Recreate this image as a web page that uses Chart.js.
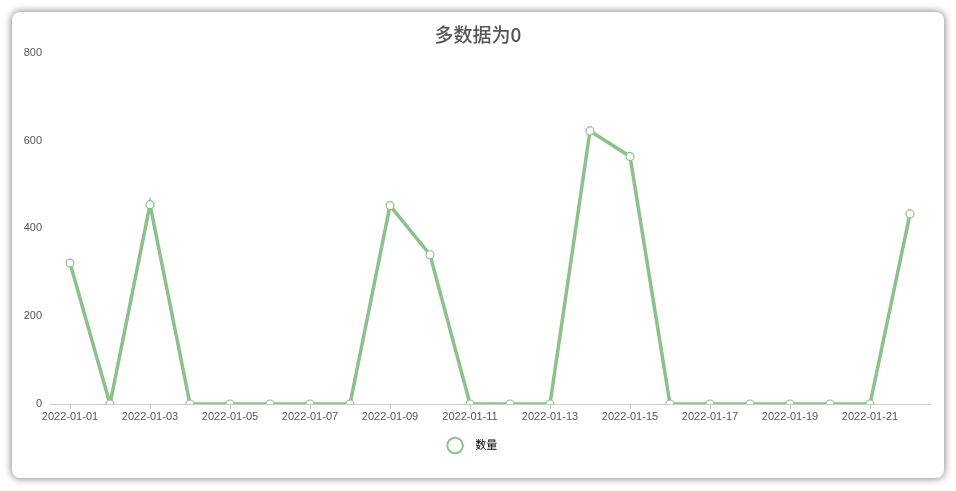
<!DOCTYPE html>
<html>
<head>
<meta charset="utf-8">
<title>多数据为0</title>
<script src="https://cdn.jsdelivr.net/npm/chart.js@4.4.0/dist/chart.umd.min.js"></script>
<style>
    html, body { margin: 0; padding: 0; background: #fff; }
    .card {
        position: absolute; left: 12px; top: 12px; width: 932px; height: 466px;
        background: #fff; border-radius: 8px;
        box-shadow: 0 0 7px 1px rgba(0, 0, 0, 0.45);
    }
    .wrap { position: absolute; left: 0; top: 0; width: 956px; height: 491px; }
</style>
</head>
<body>

<script>
    const days = ['2022-01-01', '2022-01-02', '2022-01-03', '2022-01-04', '2022-01-05', '2022-01-06',
        '2022-01-07', '2022-01-08', '2022-01-09', '2022-01-10', '2022-01-11', '2022-01-12',
        '2022-01-13', '2022-01-14', '2022-01-15', '2022-01-16', '2022-01-17', '2022-01-18',
        '2022-01-19', '2022-01-20', '2022-01-21', '2022-01-22']
    const counts = [321, 0, 454, 0, 0, 0, 0, 0, 452, 340, 0, 0, 0, 622, 564, 0, 0, 0, 0, 0, 0, 433]
    const yTicks = [0, 200, 400, 600, 800]
</script>

<div class="card"></div>
<div class="wrap"><canvas id="chart" width="956" height="491"></canvas></div>

<script>
    const green = '#8cc08c'
    const font = '"Liberation Sans", Arial, "Noto Sans CJK SC", sans-serif'

    new Chart(document.getElementById('chart'), {
        type: 'line',
        data: {
            labels: days,
            datasets: [{
                label: '数量',
                data: counts,
                borderColor: green,
                backgroundColor: '#fff',
                borderWidth: 3.5,
                pointRadius: 4,
                pointBorderWidth: 1.2,
                pointBackgroundColor: '#fff',
                pointBorderColor: green,
                tension: 0,
            }]
        },
        options: {
            responsive: false,
            animation: false,
            layout: { padding: { left: 0, right: 0, top: 0, bottom: 30 } },
            plugins: {
                title: {
                    display: true,
                    text: '多数据为0',
                    color: '#555',
                    font: { family: '"Noto Sans CJK SC", sans-serif', size: 19, weight: 500 },
                    padding: { top: 23, bottom: 7 },
                },
                legend: {
                    position: 'bottom',
                    labels: {
                        usePointStyle: true,
                        pointStyle: 'circle',
                        boxHeight: 11,
                        color: '#444',
                        font: { family: font, size: 11 },
                        padding: 10,
                        generateLabels: chart => [{
                            text: '   数量   ',
                            fillStyle: '#fff',
                            strokeStyle: green,
                            lineWidth: 2,
                            pointStyle: 'circle',
                            datasetIndex: 0,
                        }]
                    }
                },
                tooltip: { enabled: false },
            },
            scales: {
                x: {
                    offset: true,
                    grid: { display: true, drawOnChartArea: false, drawTicks: true, tickLength: 5, color: '#ccc', offset: false },
                    border: { display: true, color: '#ccc' },
                    ticks: {
                        autoSkip: false,
                        maxRotation: 0,
                        color: '#555',
                        font: { family: font, size: 11 },
                        padding: 1,
                        callback: function (v, i) { return i % 2 === 0 ? days[i] : null }
                    },
                    afterFit: s => { s.height = 26 },
                },
                y: {
                    min: 0,
                    max: 800,
                    afterBuildTicks: s => { s.ticks = yTicks.map(v => ({ value: v })) },
                    grid: { display: false },
                    border: { display: false },
                    ticks: { color: '#555', font: { family: font, size: 11 }, padding: 0 },
                    afterFit: s => { s.width = 50 },
                },
                // empty right-hand margin so title and legend centre on the full card
                y2: {
                    position: 'right',
                    min: 0,
                    max: 800,
                    grid: { display: false },
                    border: { display: false },
                    ticks: { display: false },
                    afterFit: s => { s.width = 26 },
                }
            }
        }
    })
</script>

</body>
</html>
